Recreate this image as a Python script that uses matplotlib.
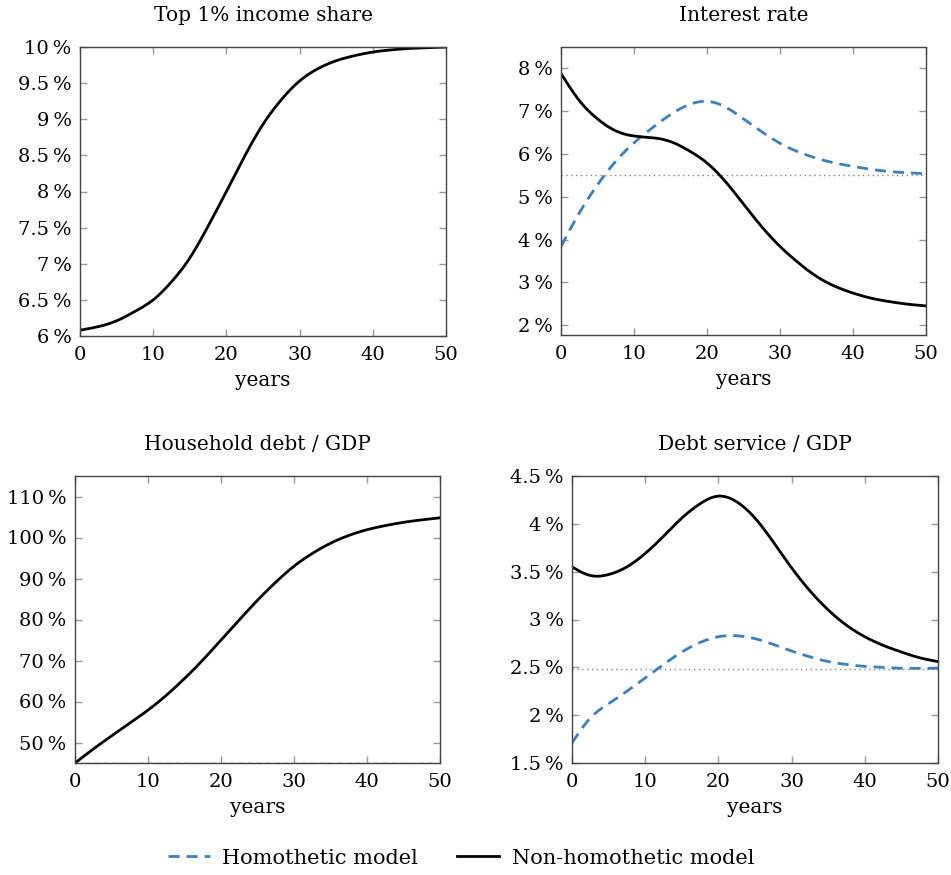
import numpy as np
import matplotlib
matplotlib.use("Agg")
import matplotlib.pyplot as plt
from matplotlib.ticker import FuncFormatter
from matplotlib.lines import Line2D

plt.rcParams['font.family'] = ['DejaVu Serif']

# ---- data ----
years = [0, 2.5, 5, 7.5, 10, 12.5, 15, 17.5, 20, 22.5, 25, 27.5, 30,
         32.5, 35, 37.5, 40, 42.5, 45, 47.5, 50]

top1_share = [6.08, 6.13, 6.21, 6.34, 6.50, 6.75, 7.08, 7.52, 8.00, 8.49, 8.93,
              9.27, 9.53, 9.70, 9.81, 9.88, 9.93, 9.96, 9.98, 9.99, 10.0]

rate_nonhom = [7.88, 7.25, 6.82, 6.54, 6.42, 6.38, 6.29, 6.08, 5.79, 5.36, 4.83,
               4.30, 3.84, 3.46, 3.14, 2.91, 2.75, 2.63, 2.55, 2.49, 2.45]
rate_hom = [3.84, 4.62, 5.28, 5.83, 6.26, 6.61, 6.92, 7.15, 7.23, 7.10, 6.82,
            6.52, 6.25, 6.05, 5.90, 5.79, 5.71, 5.64, 5.59, 5.56, 5.54]
rate_ref = 5.5

debt_nonhom = [45.0, 48.4, 51.6, 54.7, 57.9, 61.5, 65.6, 70.1, 75.0, 79.9, 84.7,
               89.1, 93.0, 96.1, 98.6, 100.5, 101.9, 102.9, 103.7, 104.3, 104.8]
debt_hom = [45.0] * len(years)

service_nonhom = [3.55, 3.46, 3.47, 3.55, 3.69, 3.87, 4.06, 4.21, 4.29, 4.23, 4.06,
                  3.81, 3.54, 3.30, 3.10, 2.94, 2.82, 2.73, 2.66, 2.60, 2.56]
service_hom = [1.71, 1.97, 2.12, 2.25, 2.39, 2.53, 2.66, 2.76, 2.82, 2.83, 2.80,
               2.74, 2.67, 2.61, 2.56, 2.53, 2.51, 2.50, 2.49, 2.49, 2.49]
service_ref = 2.48

BLUE = '#3a80c2'
BLACK = 'black'
DASH = (0, (4, 2.5))


def smooth(x, y, n=400):
    # natural cubic spline through the read-off points
    x = np.asarray(x, float)
    y = np.asarray(y, float)
    k = len(x)
    h = np.diff(x)
    A = np.zeros((k, k))
    r = np.zeros(k)
    A[0, 0] = A[-1, -1] = 1
    for i in range(1, k - 1):
        A[i, i - 1] = h[i - 1]
        A[i, i] = 2 * (h[i - 1] + h[i])
        A[i, i + 1] = h[i]
        r[i] = 6 * ((y[i + 1] - y[i]) / h[i] - (y[i] - y[i - 1]) / h[i - 1])
    m = np.linalg.solve(A, r)
    xs = np.linspace(x[0], x[-1], n)
    idx = np.clip(np.searchsorted(x, xs) - 1, 0, k - 2)
    x0, x1 = x[idx], x[idx + 1]
    hh = x1 - x0
    a = (x1 - xs) / hh
    b = (xs - x0) / hh
    ys = (a * y[idx] + b * y[idx + 1]
          + ((a ** 3 - a) * m[idx] + (b ** 3 - b) * m[idx + 1]) * hh ** 2 / 6)
    return xs, ys


def pct(v, pos):
    return ('%g' % round(v, 2)) + '\u2009%'


def style(ax, title, ylim, yticks):
    ax.set_xlim(0, 50)
    ax.set_ylim(*ylim)
    ax.set_xticks([0, 10, 20, 30, 40, 50])
    ax.set_yticks(yticks)
    ax.yaxis.set_major_formatter(FuncFormatter(pct))
    ax.tick_params(direction='in', length=5, width=1, color='#999999',
                   top=True, right=True, labelsize=14)
    ax.tick_params(axis='x', pad=7)
    ax.tick_params(axis='y', pad=6)
    for sp in ax.spines.values():
        sp.set_color('#444444')
        sp.set_linewidth(1)
        sp.set_zorder(3)
    ax.set_title(title, fontsize=14.5, pad=19)
    ax.set_xlabel('years', fontsize=14.5, labelpad=5)


fig = plt.figure(figsize=(9.51, 8.75), dpi=100)
W, H = 951, 875
def add(l, t, r, b):
    return fig.add_axes([l / W, 1 - b / H, (r - l) / W, (b - t) / H])

ax1 = add(80, 47, 446, 336)
ax2 = add(561, 47, 926, 335)
ax3 = add(75, 476, 440, 763)
ax4 = add(572, 476, 938, 763)

# Top 1% income share
ax1.plot(*smooth(years, top1_share), color=BLACK, lw=2)
style(ax1, 'Top 1% income share', (6, 10), np.arange(6, 10.01, 0.5))

# Interest rate
ax2.axhline(rate_ref, color='#888888', ls=(0, (1, 2.5)), lw=1)
ax2.plot(*smooth(years, rate_hom), color=BLUE, lw=2, ls=DASH)
ax2.plot(*smooth(years, rate_nonhom), color=BLACK, lw=2)
style(ax2, 'Interest rate', (1.77, 8.5), np.arange(2, 8.01, 1))

# Household debt / GDP (homothetic debt stays at the lower edge)
ax3.plot(*smooth(years, debt_hom), color=BLUE, lw=1.0, ls=DASH, zorder=1)
ax3.plot(*smooth(years, debt_nonhom), color=BLACK, lw=2)
style(ax3, 'Household debt / GDP', (45, 115), np.arange(50, 110.1, 10))

# Debt service / GDP
ax4.axhline(service_ref, color='#888888', ls=(0, (1, 2.5)), lw=1)
ax4.plot(*smooth(years, service_hom), color=BLUE, lw=2, ls=DASH)
ax4.plot(*smooth(years, service_nonhom), color=BLACK, lw=2)
style(ax4, 'Debt service / GDP', (1.5, 4.5), np.arange(1.5, 4.51, 0.5))

handles = [Line2D([], [], color=BLUE, lw=2, ls=DASH),
           Line2D([], [], color=BLACK, lw=2)]
fig.legend(handles, ['Homothetic model', 'Non-homothetic model'],
           loc='center', bbox_to_anchor=(461 / W, 1 - 858 / H), ncol=2,
           frameon=False, fontsize=15, handlelength=2.0, columnspacing=1.9,
           handletextpad=0.6)

fig.savefig('out.png', dpi=100)
